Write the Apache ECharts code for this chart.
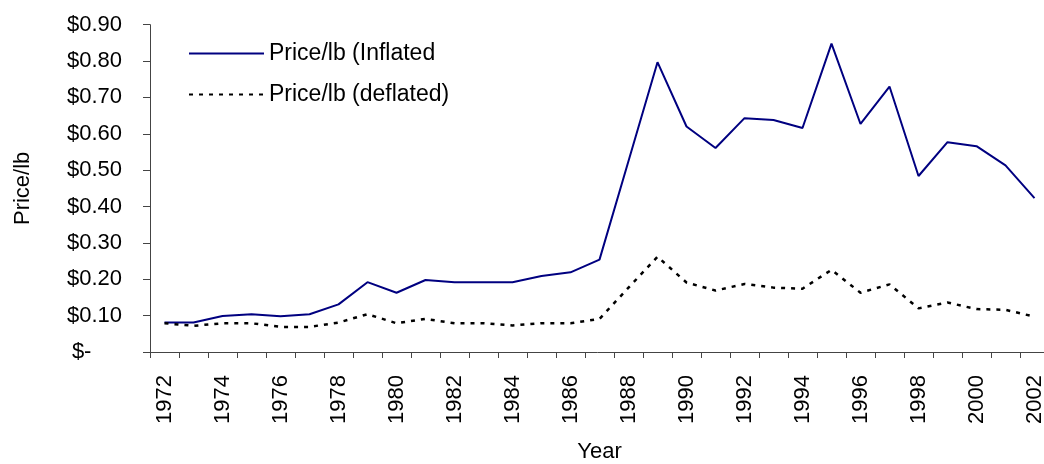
<!DOCTYPE html>
<html>
<head>
<meta charset="utf-8">
<script src="https://cdn.jsdelivr.net/npm/echarts@6/dist/echarts.min.js"></script>
<style>
    html, body {margin: 0; padding: 0; background: #fff;}
    #graph {width: 1044px; height: 464px;}
</style>
</head>
<body>
<div id="graph"></div>
<script>
// 年份
var years = ['1972', '1973', '1974', '1975', '1976', '1977', '1978', '1979', '1980', '1981',
    '1982', '1983', '1984', '1985', '1986', '1987', '1988', '1989', '1990', '1991',
    '1992', '1993', '1994', '1995', '1996', '1997', '1998', '1999', '2000', '2001', '2002'];

// 名义价格
var inflated = [0.081, 0.081, 0.099, 0.104, 0.098, 0.104, 0.131, 0.192, 0.163, 0.198,
    0.192, 0.192, 0.192, 0.209, 0.219, 0.254, 0.525, 0.797, 0.620, 0.561,
    0.643, 0.638, 0.616, 0.848, 0.627, 0.730, 0.484, 0.577, 0.566, 0.513, 0.423];

// 实际价格
var deflated = [0.079, 0.072, 0.079, 0.079, 0.069, 0.069, 0.081, 0.104, 0.079, 0.091,
    0.079, 0.079, 0.073, 0.079, 0.079, 0.091, 0.177, 0.262, 0.191, 0.169,
    0.187, 0.177, 0.174, 0.226, 0.163, 0.186, 0.120, 0.136, 0.118, 0.116, 0.097];

var seriesNames = ['Price/lb (Inflated', 'Price/lb (deflated)'];

var font = '"Liberation Sans", Arial, sans-serif';
var axisColor = '#444';

var option = {
    backgroundColor: '#fff',
    animation: false,
    legend: {
        orient: 'vertical',
        left: 188,
        top: 42,
        padding: 0,
        itemWidth: 75,
        itemHeight: 14,
        itemGap: 18,
        itemStyle: {color: 'transparent', borderWidth: 0, opacity: 0},
        textStyle: {fontFamily: font, fontSize: 23, color: '#000', lineHeight: 20},
        data: seriesNames
    },
    grid: {
        left: 150,
        right: -5,
        top: 24.7,
        bottom: 112,
        containLabel: false,
        outerBoundsMode: 'none'
    },
    xAxis: {
        type: 'category',
        data: years,
        boundaryGap: true,
        name: 'Year',
        nameLocation: 'middle',
        nameGap: 89,
        nameTextStyle: {fontFamily: font, fontSize: 22, color: '#000'},
        axisLine: {lineStyle: {color: axisColor, width: 1}},
        axisTick: {show: true, interval: 0, length: 6, lineStyle: {color: axisColor}},
        axisLabel: {
            interval: 1,
            rotate: 90,
            margin: 23,
            fontFamily: font,
            fontSize: 22,
            color: '#000'
        },
        splitLine: {show: false}
    },
    yAxis: {
        type: 'value',
        min: 0,
        max: 0.9,
        interval: 0.1,
        name: 'Price/lb',
        nameLocation: 'middle',
        nameRotate: 90,
        nameGap: 116,
        nameTextStyle: {fontFamily: font, fontSize: 22, color: '#000'},
        axisLine: {show: true, lineStyle: {color: axisColor, width: 1}},
        axisTick: {show: true, length: 7, lineStyle: {color: axisColor}},
        axisLabel: {
            margin: 28,
            fontFamily: font,
            fontSize: 22,
            color: '#000',
            formatter: function (val) {
                if (val === 0) return '$-     ';
                return '$' + val.toFixed(2);
            }
        },
        splitLine: {show: false}
    },
    series: [{
        name: seriesNames[0],
        type: 'line',
        data: inflated,
        symbol: 'none',
        lineStyle: {color: '#000080', width: 2},
        itemStyle: {color: '#000080'}
    }, {
        name: seriesNames[1],
        type: 'line',
        data: deflated,
        symbol: 'none',
        lineStyle: {color: '#000', width: 2.5, type: [4, 6]},
        itemStyle: {color: '#000'}
    }]
};

var chart = echarts.init(document.getElementById('graph'));
chart.setOption(option, true);
</script>
</body>
</html>
